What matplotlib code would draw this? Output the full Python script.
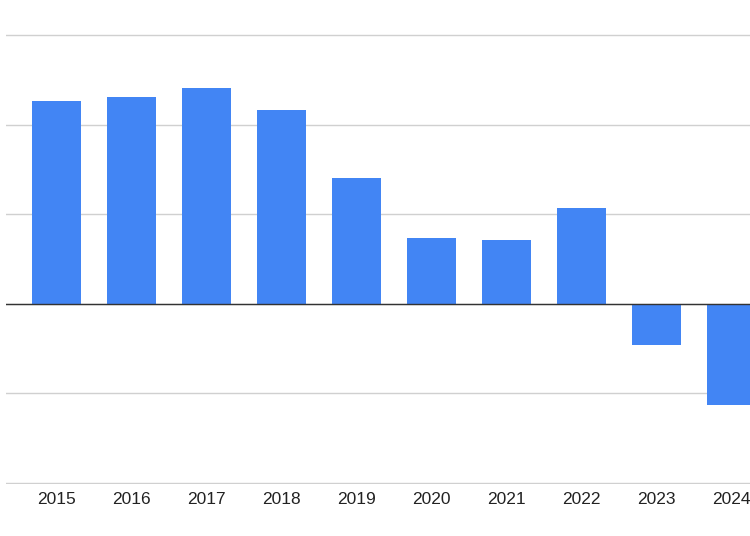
import matplotlib
matplotlib.use("Agg")
import matplotlib.pyplot as plt

years = ["2015", "2016", "2017", "2018", "2019", "2020", "2021", "2022", "2023", "2024"]
values = [2.26, 2.31, 2.41, 2.16, 1.40, 0.73, 0.71, 1.07, -0.46, -1.13]

plt.rcParams['font.family'] = ['Liberation Sans', 'DejaVu Sans']

fig = plt.figure(figsize=(7.5, 5.36), dpi=100)
ax = fig.add_axes([6 / 750, 52 / 536, 744 / 750, 450 / 536])

x = list(range(len(years)))
ax.bar(x, values, width=0.653, color="#4285F4", zorder=3)

ax.set_ylim(-2.01, 3.01)
ax.set_xlim(-0.667, 9.253)
ax.set_yticks([-2, -1, 0, 1, 2, 3])
ax.yaxis.grid(True, color="#d0d0d0", linewidth=1)
ax.axhline(0, color="#333333", linewidth=1, zorder=4)
ax.tick_params(axis="y", left=False, labelleft=False)
ax.set_xticks(x)
ax.set_xticklabels(years, fontsize=12.5, color="#222222")
ax.tick_params(axis="x", length=0, pad=6)
for s in ax.spines.values():
    s.set_visible(False)

fig.savefig("out.png", dpi=100)
